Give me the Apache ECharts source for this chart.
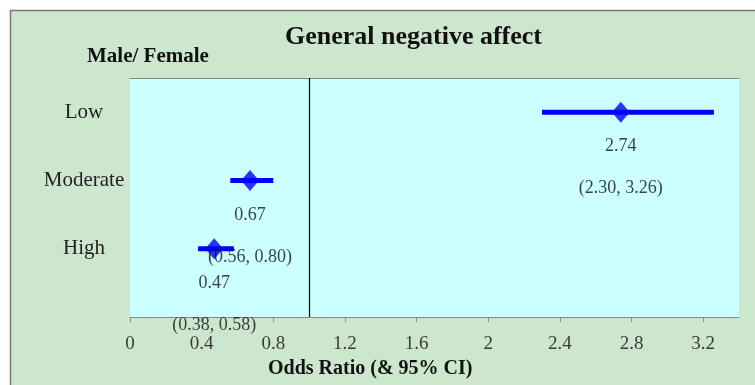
<!DOCTYPE html>
<html>
<head>
<meta charset="utf-8">
<script src="https://cdn.jsdelivr.net/npm/echarts@6/dist/echarts.min.js"></script>
<style>
  html, body { margin: 0; padding: 0; background: #fff; }
  #chart { width: 755px; height: 385px; }
</style>
</head>
<body>
<div id="chart"></div>
<script>
// data
var levels = ['Low', 'Moderate', 'High'];
var levelPos = [3, 2, 1];
var oddsRatio = [2.74, 0.67, 0.47];
var ciLow = [2.30, 0.56, 0.38];
var ciHigh = [3.26, 0.80, 0.58];
var refLine = 1;

var serif = "'Liberation Serif', 'Times New Roman', serif";

var chart = echarts.init(document.getElementById('chart'));

// y position -> level name for the axis labels
var posName = {};
levelPos.forEach(function (p, i) { posName[p] = levels[i]; });

var pointData = levelPos.map(function (p, i) {
  return {
    value: [oddsRatio[i], p],
    ci: '(' + ciLow[i].toFixed(2) + ', ' + ciHigh[i].toFixed(2) + ')'
  };
});
var barData = levelPos.map(function (p, i) {
  return [ciLow[i], ciHigh[i], p];
});

var option = {
  backgroundColor: '#fff',
  animation: false,
  graphic: [{
    type: 'rect',
    z: -100,
    shape: { x: 10.5, y: 10.5, width: 800, height: 420 },
    style: { fill: '#cde7cf', stroke: '#7a7a7a', lineWidth: 1.5 }
  }],
  title: [{
    text: 'General negative affect',
    left: 285, top: 24, padding: 0,
    textStyle: { fontFamily: serif, fontSize: 26, fontWeight: 'bold', color: '#111' }
  }, {
    text: 'Male/ Female',
    left: 87, top: 46, padding: 0,
    textStyle: { fontFamily: serif, fontSize: 21, fontWeight: 'bold', color: '#111' }
  }, {
    text: 'Odds Ratio (& 95% CI)',
    left: 268, top: 359, padding: 0,
    textStyle: { fontFamily: serif, fontSize: 20, fontWeight: 'bold', color: '#111' }
  }],
  grid: {
    left: 130, right: 16, top: 78, bottom: 68,
    show: true, backgroundColor: '#ccffff', borderWidth: 0
  },
  xAxis: [{
    type: 'value',
    min: 0, max: 3.4, interval: 0.4,
    splitLine: { show: false },
    axisLine: { lineStyle: { color: '#888', width: 1.2 } },
    axisTick: { length: 5, lineStyle: { color: '#888' } },
    axisLabel: {
      showMaxLabel: false, margin: 18,
      fontFamily: serif, fontSize: 19, color: '#3a3a3a'
    }
  }, {
    type: 'value', position: 'top',
    min: 0, max: 3.4,
    splitLine: { show: false },
    axisLine: { show: true, lineStyle: { color: '#888', width: 1.2 } },
    axisTick: { show: false },
    axisLabel: { show: false }
  }],
  yAxis: {
    type: 'value',
    min: 0, max: 3.5, interval: 1,
    splitLine: { show: false },
    axisLine: { show: false },
    axisTick: { show: false },
    axisLabel: {
      align: 'center', margin: 46,
      fontFamily: serif, fontSize: 21, color: '#222',
      formatter: function (v) { return posName[v] || ''; }
    }
  },
  series: [{
    type: 'custom',
    z: 2,
    data: barData,
    encode: { x: [0, 1], y: 2 },
    renderItem: function (params, api) {
      var a = api.coord([api.value(0), api.value(2)]);
      var b = api.coord([api.value(1), api.value(2)]);
      return {
        type: 'line',
        shape: { x1: a[0], y1: a[1], x2: b[0], y2: b[1] },
        style: { stroke: '#0000ff', lineWidth: 5 }
      };
    },
    markLine: {
      silent: true,
      symbol: 'none',
      label: { show: false },
      lineStyle: { color: '#000', width: 1.2, type: 'solid' },
      data: [{ xAxis: refLine }]
    }
  }, {
    type: 'scatter',
    z: 3,
    symbol: 'diamond',
    symbolSize: [18, 21],
    itemStyle: { color: '#0000ff' },
    data: pointData,
    label: {
      show: true,
      position: 'bottom',
      distance: 3,
      formatter: function (p) {
        return '{v|' + p.value[0].toFixed(2) + '}\n{c|' + p.data.ci + '}';
      },
      rich: {
        v: { fontFamily: serif, fontSize: 18, color: '#111', lineHeight: 42 },
        c: { fontFamily: serif, fontSize: 18, color: '#111', lineHeight: 42 }
      }
    }
  }]
};

chart.setOption(option);
</script>
</body>
</html>
